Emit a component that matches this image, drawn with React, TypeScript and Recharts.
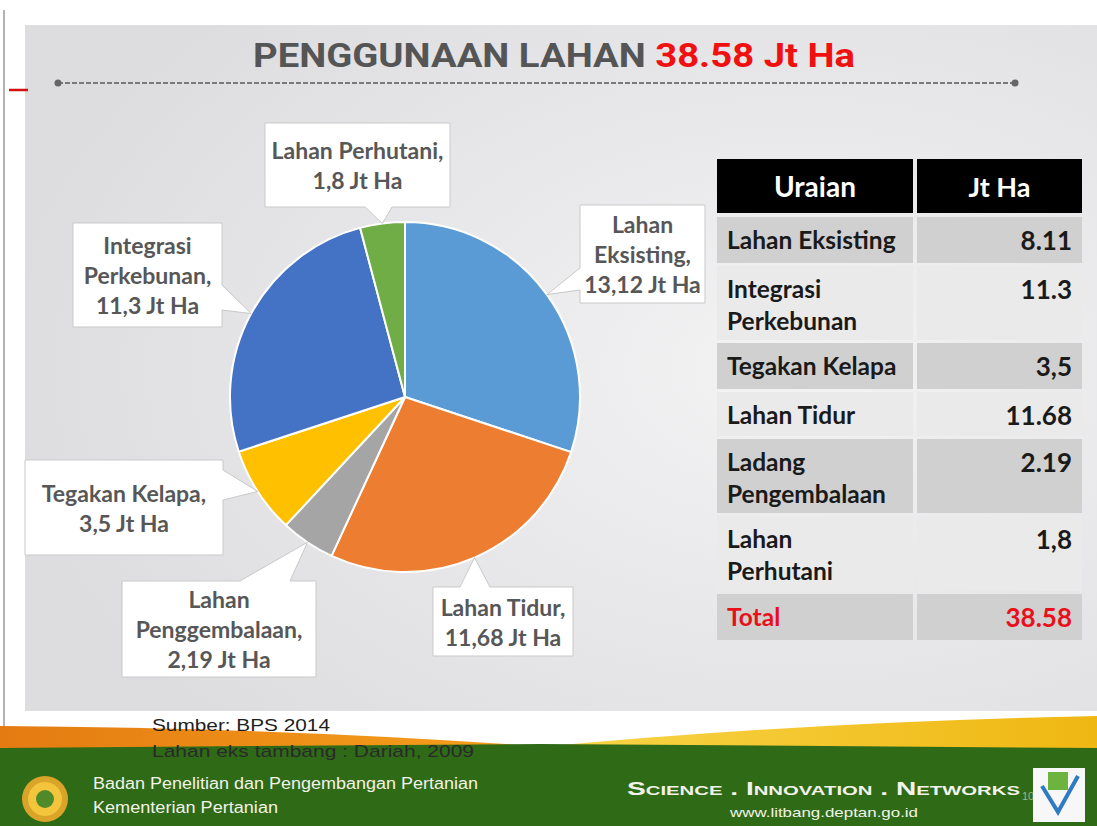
import React from "react";
import { PieChart, Pie, Cell } from "recharts";

// pie slices, clockwise from 12 o'clock
const sliceNames = ["Lahan Eksisting", "Lahan Tidur", "Lahan Penggembalaan", "Tegakan Kelapa", "Integrasi Perkebunan", "Lahan Perhutani"];
const sliceValues = [13.12, 11.68, 2.19, 3.5, 11.3, 1.8];
const sliceValueLabels = ["13,12", "11,68", "2,19", "3,5", "11,3", "1,8"];
const sliceNameLines = [
  ["Lahan", "Eksisting,"],
  ["Lahan Tidur,"],
  ["Lahan", "Penggembalaan,"],
  ["Tegakan Kelapa,"],
  ["Integrasi", "Perkebunan,"],
  ["Lahan Perhutani,"],
];
const sliceColors = ["#5B9BD5", "#ED7D31", "#A5A5A5", "#FFC000", "#4472C4", "#70AD47"];

// table on the right
const tableHeader = ["Uraian", "Jt Ha"];
const tableLabels = [
  ["Lahan Eksisting"],
  ["Integrasi", "Perkebunan"],
  ["Tegakan Kelapa"],
  ["Lahan Tidur"],
  ["Ladang", "Pengembalaan"],
  ["Lahan", "Perhutani"],
  ["Total"],
];
const tableValues = ["8.11", "11.3", "3,5", "11.68", "2.19", "1,8", "38.58"];

const chartData = sliceNames.map((name, i) => ({ name, value: sliceValues[i] }));

// callout box placement (layout only)
type Box = { x: number; y: number; w: number; h: number; side: "top" | "bottom" | "left" | "right"; a: number; b: number };
const boxes: Box[] = [
  { x: 580, y: 205, w: 125, h: 98, side: "left", a: 268, b: 290 },
  { x: 433, y: 587, w: 140, h: 69, side: "top", a: 460, b: 490 },
  { x: 122, y: 581, w: 194, h: 96, side: "top", a: 240, b: 290 },
  { x: 25, y: 460, w: 198, h: 95, side: "right", a: 470, b: 500 },
  { x: 73, y: 223, w: 149, h: 104, side: "right", a: 285, b: 310 },
  { x: 265, y: 123, w: 185, h: 84, side: "bottom", a: 365, b: 392 },
];

function calloutPath(bx: Box, tx: number, ty: number) {
  const { x, y, w, h, side, a, b } = bx;
  const r = x + w;
  const bt = y + h;
  if (side === "top") return `M${x},${y}L${a},${y}L${tx},${ty}L${b},${y}L${r},${y}L${r},${bt}L${x},${bt}Z`;
  if (side === "right") return `M${x},${y}L${r},${y}L${r},${a}L${tx},${ty}L${r},${b}L${r},${bt}L${x},${bt}Z`;
  if (side === "bottom") return `M${x},${y}L${r},${y}L${r},${bt}L${b},${bt}L${tx},${ty}L${a},${bt}L${x},${bt}Z`;
  return `M${x},${y}L${r},${y}L${r},${bt}L${x},${bt}L${x},${b}L${tx},${ty}L${x},${a}Z`;
}

const renderCallout = (props: any) => {
  const { cx, cy, midAngle, outerRadius, index } = props;
  const rad = Math.PI / 180;
  const tx = cx + outerRadius * Math.cos(-midAngle * rad);
  const ty = cy + outerRadius * Math.sin(-midAngle * rad);
  const bx = boxes[index];
  const lines = [...sliceNameLines[index], `${sliceValueLabels[index]} Jt Ha`];
  const midY = bx.y + bx.h / 2;
  const start = midY - ((lines.length - 1) * 30) / 2;
  return (
    <g key={`co-${index}`}>
      <path d={calloutPath(bx, tx, ty)} fill="#fff" stroke="#C9C9C9" strokeWidth={1} />
      {lines.map((t, j) => (
        <text
          key={j}
          x={bx.x + bx.w / 2}
          y={start + j * 30}
          textAnchor="middle"
          dominantBaseline="central"
          fill="#575757"
          fontFamily="Lato, 'Open Sans', sans-serif"
          fontWeight={700}
          fontSize={23}
        >
          {t}
        </text>
      ))}
    </g>
  );
};

const rowHeights = [46, 74, 46, 44, 74, 75, 46];

export default function App() {
  let rowTop = 217;
  const rows = rowHeights.map((h, i) => {
    const top = rowTop;
    rowTop += h + 3;
    return { top, h, i };
  });

  return (
    <div style={{ position: "relative", width: 1097, height: 826, overflow: "hidden", background: "#fff", fontFamily: "Lato, sans-serif" }}>
      <style>{`body{margin:0}`}</style>
      <svg width={1097} height={826} style={{ position: "absolute", left: 0, top: 0 }}>
        <defs>
          <radialGradient id="panel" cx="0.72" cy="0.5" r="0.75">
            <stop offset="0%" stopColor="#F3F3F4" />
            <stop offset="100%" stopColor="#DDDDE0" />
          </radialGradient>
          <linearGradient id="orange" x1="0" y1="0" x2="1" y2="0">
            <stop offset="0%" stopColor="#E47B12" />
            <stop offset="100%" stopColor="#F6A21C" />
          </linearGradient>
          <linearGradient id="yellow" x1="0" y1="0" x2="1" y2="0">
            <stop offset="0%" stopColor="#F8D64A" />
            <stop offset="100%" stopColor="#EFB712" />
          </linearGradient>
        </defs>
        <rect x={25} y={25} width={1072} height={686} fill="url(#panel)" />
        <line x1={4} y1={10} x2={4} y2={826} stroke="#9A9A9A" strokeWidth={1.5} />
        <line x1={9} y1={90} x2={28} y2={90} stroke="#D31010" strokeWidth={2.5} />
        <text x={253} y={67} textLength={602} lengthAdjust="spacingAndGlyphs" fontFamily="Roboto, sans-serif" fontWeight={700} fontSize={34}>
          <tspan fill="#555555">PENGGUNAAN LAHAN </tspan>
          <tspan fill="#F01010">38.58 Jt Ha</tspan>
        </text>
        <line x1={58} y1={83} x2={1015} y2={83} stroke="#7A7A7A" strokeWidth={2} strokeDasharray="5 2" />
        <circle cx={58} cy={83} r={3.5} fill="#666" />
        <circle cx={1015} cy={83} r={3.5} fill="#666" />

        {/* footer */}
        <path d="M0,726 Q300,728 560,748 L0,748 Z" fill="url(#orange)" />
        <path d="M530,748 Q800,722 1097,716 L1097,748 Z" fill="url(#yellow)" />
        <path d="M0,748 L540,744 L1097,748 L1097,826 L0,826 Z" fill="#2F6A17" />
        <text x={152} y={731} fontFamily="'Liberation Sans', Arial, sans-serif" fontSize={17} fill="#1E1E1E" textLength={178} lengthAdjust="spacingAndGlyphs">Sumber:  BPS 2014</text>
        <text x={152} y={757} fontFamily="'Liberation Sans', Arial, sans-serif" fontSize={17} fill="#2A2A2A" textLength={322} lengthAdjust="spacingAndGlyphs">Lahan eks tambang : Dariah, 2009</text>
        <circle cx={45} cy={799} r={23} fill="#D9A428" />
        <circle cx={45} cy={799} r={17} fill="#F2C53D" />
        <circle cx={45} cy={799} r={9} fill="#4F8A2A" />
        <text x={93} y={789} fontFamily="'Liberation Sans', Arial, sans-serif" fontSize={16} fill="#F2F2E8" textLength={385} lengthAdjust="spacingAndGlyphs">Badan Penelitian dan Pengembangan Pertanian</text>
        <text x={93} y={813} fontFamily="'Liberation Sans', Arial, sans-serif" fontSize={16} fill="#F2F2E8" textLength={185} lengthAdjust="spacingAndGlyphs">Kementerian Pertanian</text>
        <text x={627} y={795} fontFamily="'Liberation Sans', Arial, sans-serif" fontWeight={700} fontSize={18} fill="#F2F2E8" style={{ fontVariant: "small-caps" }} textLength={393} lengthAdjust="spacingAndGlyphs">Science . Innovation . Networks</text>
        <text x={730} y={817} fontFamily="'Liberation Sans', Arial, sans-serif" fontSize={13} fill="#F2F2E8" textLength={188} lengthAdjust="spacingAndGlyphs">www.litbang.deptan.go.id</text>
        <text x={1022} y={800} fontFamily="'Liberation Sans', Arial, sans-serif" fontSize={11} fill="#9FB58F">10</text>
        <rect x={1033} y={768} width={52} height={54} fill="#F7F7F7" />
        <path d="M1042,786 L1058,812 L1078,776" fill="none" stroke="#2E7BC4" strokeWidth={4} />
        <rect x={1048} y={772} width={20} height={18} fill="#6DB33F" />
      </svg>

      <div style={{ position: "absolute", left: 0, top: 0 }}>
        <PieChart width={1097} height={826} margin={{ top: 0, right: 0, bottom: 0, left: 0 }}>
          <Pie
            data={chartData}
            dataKey="value"
            nameKey="name"
            cx={405}
            cy={397}
            outerRadius={175}
            startAngle={90}
            endAngle={-270}
            stroke="#fff"
            strokeWidth={2}
            label={renderCallout}
            labelLine={false}
            isAnimationActive={false}
          >
            {chartData.map((d, i) => (
              <Cell key={d.name} fill={sliceColors[i]} />
            ))}
          </Pie>
        </PieChart>
      </div>

      {/* table */}
      <div style={{ position: "absolute", left: 717, top: 159, width: 196, height: 54, background: "#000", color: "#fff", fontWeight: 700, fontSize: 28, display: "flex", alignItems: "center", justifyContent: "center" }}>
        {tableHeader[0]}
      </div>
      <div style={{ position: "absolute", left: 917, top: 159, width: 165, height: 54, background: "#000", color: "#fff", fontWeight: 700, fontSize: 27, display: "flex", alignItems: "center", justifyContent: "center" }}>
        {tableHeader[1]}
      </div>
      {rows.map(({ top, h, i }) => {
        const bg = i % 2 === 0 ? "#D0D0D0" : "#EAEAEA";
        const color = i === tableLabels.length - 1 ? "#E8101A" : "#1A1A1A";
        return (
          <React.Fragment key={i}>
            <div style={{ position: "absolute", left: 717, top, width: 196, height: h, background: bg, color, fontWeight: 700, fontSize: 24.5, lineHeight: "32px", paddingLeft: 10, paddingTop: 7, boxSizing: "border-box", whiteSpace: "nowrap" }}>
              {tableLabels[i].map((l, j) => (
                <div key={j}>{l}</div>
              ))}
            </div>
            <div style={{ position: "absolute", left: 917, top, width: 165, height: h, background: bg, color, fontWeight: 700, fontSize: 26, lineHeight: "32px", paddingRight: 10, paddingTop: 7, textAlign: "right", boxSizing: "border-box" }}>
              {tableValues[i]}
            </div>
          </React.Fragment>
        );
      })}
    </div>
  );
}
